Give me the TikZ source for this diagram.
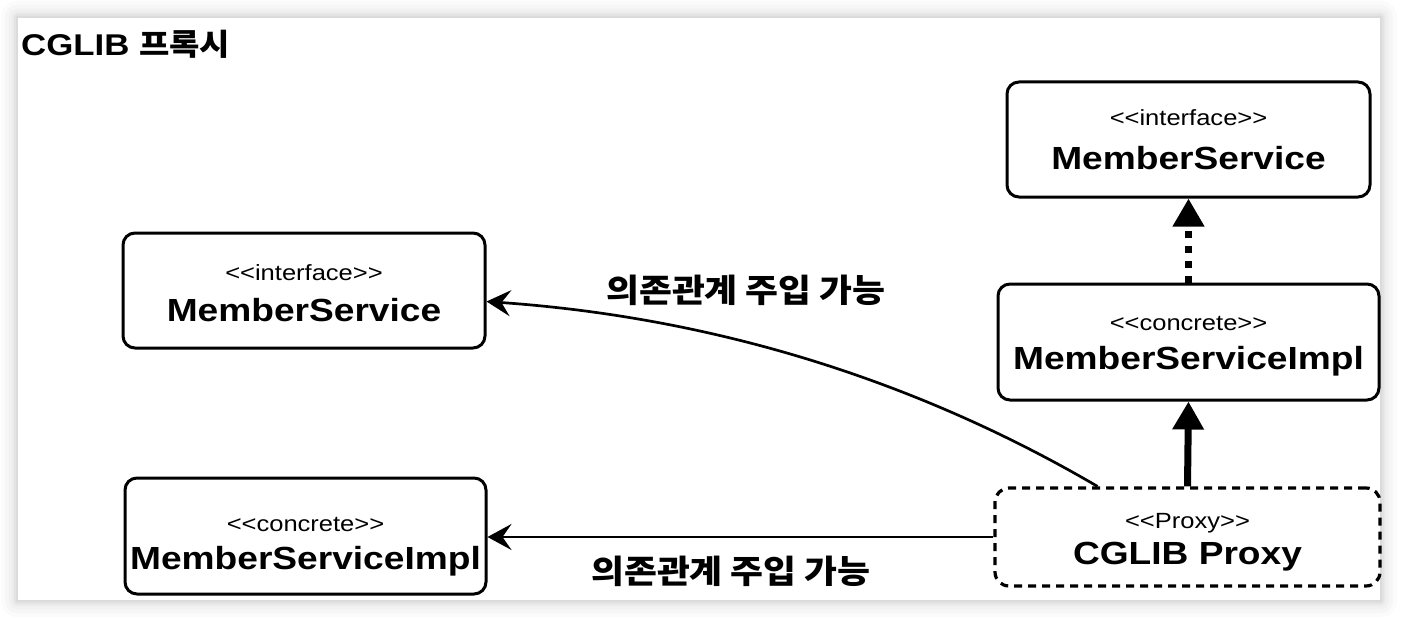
\documentclass[tikz,border=0pt]{standalone}
\usepackage{fontspec}
\newfontfamily\hv[FakeStretch=1.16]{Liberation Sans}
\newfontfamily\kr[FakeStretch=1.1]{Noto Sans CJK KR}
\usetikzlibrary{arrows.meta}
\newcommand\stL{<\kern0pt<}
\newcommand\stR{>\kern0pt>}
\begin{document}
\begin{tikzpicture}[x=1pt,y=-1pt,
  box/.style={draw, line width=3pt, rounded corners=12pt, inner sep=0pt},
  proxybox/.style={draw, line width=3.2pt, rounded corners=14pt, dash pattern=on 8pt off 6pt, inner sep=0pt},
  stereo/.style={font=\hv\fontsize{22}{22}\selectfont, anchor=base, inner sep=0pt},
  mainlbl/.style={font=\hv\bfseries\fontsize{32}{32}\selectfont, anchor=base, inner sep=0pt},
  krlbl/.style={font=\kr\bfseries\fontsize{32.5}{32.5}\selectfont, inner sep=0pt},
  dep/.style={line width=2.7pt, -{Stealth[length=24pt,width=26pt,inset=9pt]}},
  inh/.style={line width=7pt, -{Triangle[length=28pt,width=30pt]}},
]
\useasboundingbox (0,0) rectangle (1406,618);
\fill[white] (0,0) rectangle (1406,618);
% shadow
\foreach \i/\o in {16/0.015, 12/0.02, 8/0.02, 5/0.025, 3/0.03}
  \fill[black, opacity=\o, rounded corners=\i pt] (17-\i,17-\i) rectangle (1381+\i,601+\i);
% panel
\fill[white] (17,17) rectangle (1381,601);
\draw[black!14, line width=2pt] (17,17) rectangle (1381,601);

% title
\node[anchor=base west, inner sep=0pt, font=\hv\bfseries\fontsize{30}{30}\selectfont] (title) at (21,56) {CGLIB {\kr\bfseries 프록시}};

% boxes
\node[box, minimum width=362pt, minimum height=115pt] (ms1) at (304,290.5) {};
\node[stereo] (ms1s) at (304,280) {\stL interface\stR};
\node[mainlbl] (ms1m) at (304,321) {MemberService};

\node[box, minimum width=361pt, minimum height=116pt] (msi1) at (305.5,536) {};
\node[stereo] (msi1s) at (305.5,531) {\stL concrete\stR};
\node[mainlbl] (msi1m) at (305.5,569) {MemberServiceImpl};

\node[box, minimum width=363pt, minimum height=115pt] (ms2) at (1188.5,139.5) {};
\node[stereo] (ms2s) at (1188.5,125) {\stL interface\stR};
\node[mainlbl] (ms2m) at (1188.5,169) {MemberService};

\node[box, minimum width=381pt, minimum height=116pt] (msi2) at (1188.5,342) {};
\node[stereo] (msi2s) at (1188.5,330) {\stL concrete\stR};
\node[mainlbl] (msi2m) at (1188.5,369) {MemberServiceImpl};

\node[proxybox, minimum width=385pt, minimum height=98pt] (px) at (1187.5,537) {};
\node[stereo] (pxs) at (1187.5,528) {\stL Proxy\stR};
\node[mainlbl] (pxm) at (1187.5,564) {CGLIB Proxy};

% connectors
\draw[inh, dash pattern=on 7pt off 8pt] (msi2.north) -- (ms2.south);
\draw[inh] (px.north) -- (msi2.south);
\coordinate (cstart) at ([xshift=-90pt]px.north);
\coordinate (cend) at ([yshift=-11pt]ms1.east);
\draw[dep] (cstart) .. controls (950,400) and (750,320) .. (cend);
\draw[dep] (px.west) -- (msi1.east |- px.west);

% labels
\node[krlbl] (lbl1) at (746,290) {의존관계 주입 가능};
\node[krlbl] (lbl2) at (731,571) {의존관계 주입 가능};
\end{tikzpicture}
\end{document}
